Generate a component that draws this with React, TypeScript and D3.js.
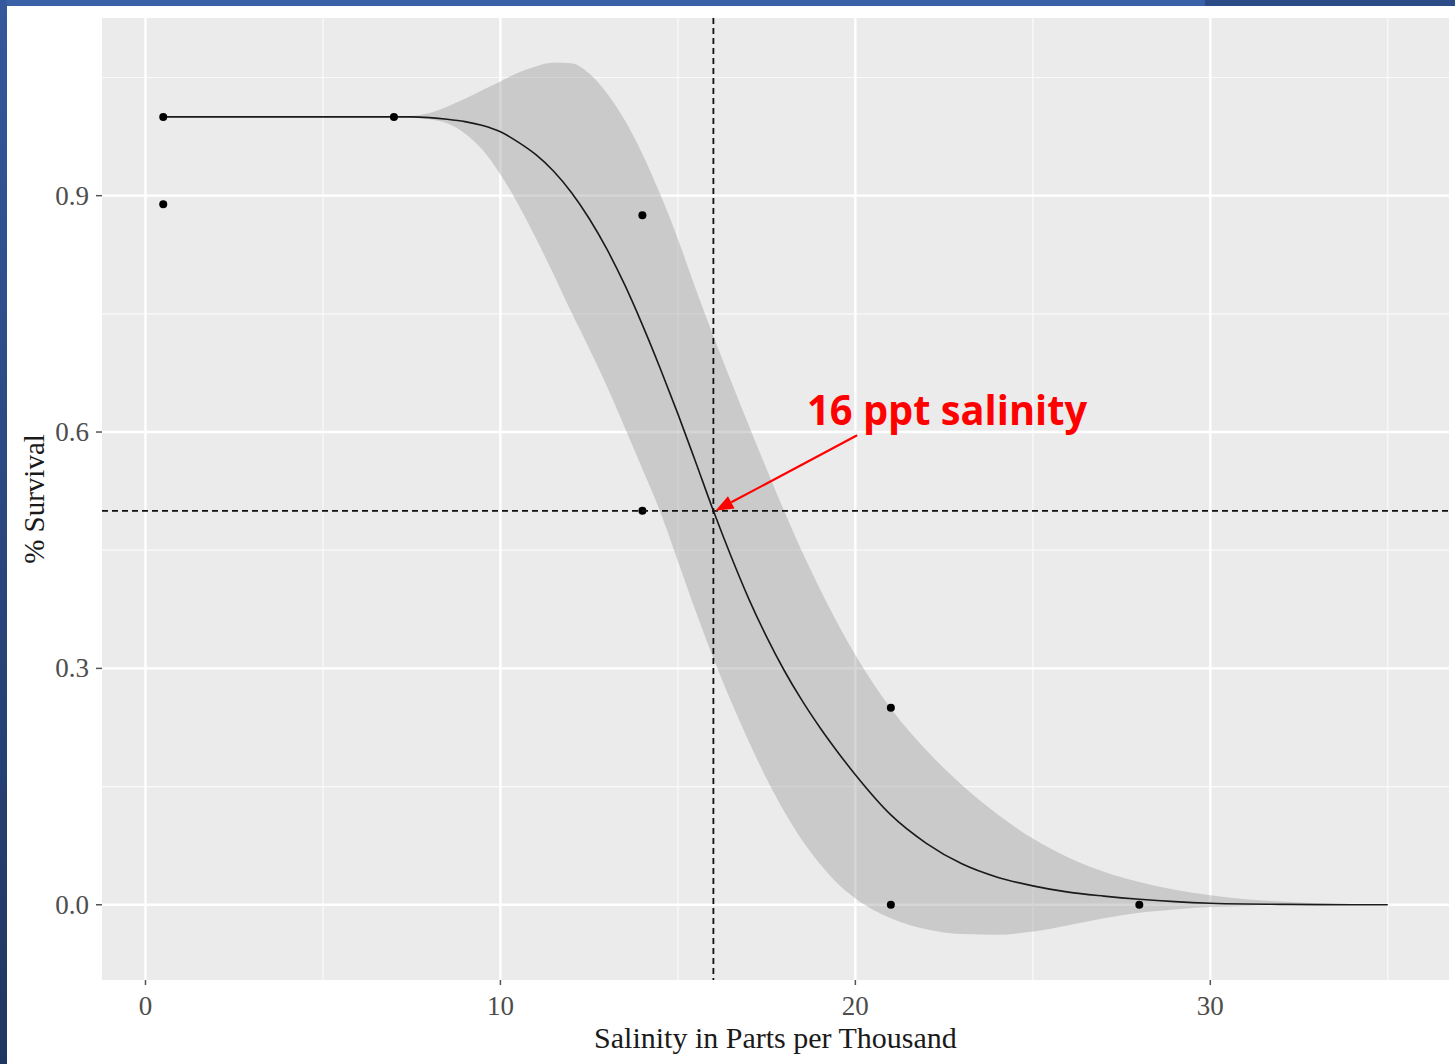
import React from "react";
import * as d3 from "d3";

// ---- Data ----
const pointX = [0.5, 0.5, 7, 14, 14, 21, 21, 28];
const pointY = [1.0, 0.889, 1.0, 0.875, 0.5, 0.25, 0.0, 0.0];

const fitX = [0.5, 7, 7.5, 8, 8.5, 9, 9.5, 10, 10.5, 11, 11.5, 12, 12.5, 13, 13.5, 14, 14.5, 15, 15.5, 16, 16.5, 17, 17.5, 18, 18.5, 19, 19.5, 20, 21, 22, 23, 24, 25, 26, 27, 28, 29, 30, 31, 32, 33, 34, 35];
const fitY = [1.0, 1.0, 1.0, 0.999, 0.997, 0.994, 0.989, 0.981, 0.968, 0.952, 0.931, 0.904, 0.871, 0.832, 0.787, 0.736, 0.681, 0.623, 0.562, 0.5, 0.442, 0.388, 0.34, 0.297, 0.259, 0.225, 0.194, 0.165, 0.114, 0.078, 0.052, 0.035, 0.024, 0.016, 0.011, 0.007, 0.004, 0.002, 0.001, 0.0005, 0.0002, 0.0001, 0.0];
const upperY = [1.0, 1.0, 1.001, 1.005, 1.013, 1.023, 1.034, 1.045, 1.056, 1.064, 1.069, 1.068, 1.055, 1.03, 0.996, 0.953, 0.902, 0.845, 0.782, 0.722, 0.664, 0.608, 0.553, 0.499, 0.448, 0.401, 0.357, 0.317, 0.249, 0.196, 0.152, 0.115, 0.084, 0.06, 0.042, 0.029, 0.019, 0.012, 0.007, 0.004, 0.002, 0.001, 0.0];
const lowerY = [1.0, 1.0, 0.999, 0.997, 0.992, 0.979, 0.958, 0.927, 0.889, 0.846, 0.8, 0.752, 0.706, 0.658, 0.606, 0.553, 0.499, 0.436, 0.373, 0.313, 0.258, 0.207, 0.16, 0.118, 0.082, 0.052, 0.027, 0.008, -0.017, -0.031, -0.037, -0.038, -0.034, -0.026, -0.017, -0.01, -0.006, -0.003, -0.0015, -0.0005, 0, 0, 0];

const xMajor = [0, 10, 20, 30];
const xMinor = [5, 15, 25, 35];
const yMajor = [0, 0.3, 0.6, 0.9];
const yMinor = [0.15, 0.45, 0.75, 1.05];
const yTickLabels = ["0.0", "0.3", "0.6", "0.9"];
const xTickLabels = ["0", "10", "20", "30"];

const refX = 16;
const refY = 0.5;
const annotationText = "16 ppt salinity";
const annotationAt = [18.64, 0.609];
const arrowFrom = [20.05, 0.596];

export default function App() {
  const W = 1455, H = 1064;
  const left = 102, right = 1449, top = 18, bottom = 980;

  const x = d3.scaleLinear().domain([-1.225, 36.725]).range([left, right]);
  const y = d3.scaleLinear().domain([-0.0955, 1.1255]).range([bottom, top]);

  const ribbon = fitX.map((v, i) => ({ x: v, lo: lowerY[i], hi: upperY[i] }));
  const area = d3.area<any>().x(d => x(d.x)).y0(d => y(d.lo)).y1(d => y(d.hi)).curve(d3.curveMonotoneX);
  const line = d3.line<any>().x(d => x(d.x)).y(d => y(d.y)).curve(d3.curveMonotoneX);
  const fit = fitX.map((v, i) => ({ x: v, y: fitY[i] }));

  // arrow geometry
  const tipX = x(refX) + 2, tipY = y(refY);
  const sx = x(arrowFrom[0]), sy = y(arrowFrom[1]);
  const ang = Math.atan2(tipY - sy, tipX - sx);
  const hl = 18, hw = 7;
  const bx = tipX - hl * Math.cos(ang), by = tipY - hl * Math.sin(ang);
  const p1 = [bx + hw * Math.sin(ang), by - hw * Math.cos(ang)];
  const p2 = [bx - hw * Math.sin(ang), by + hw * Math.cos(ang)];

  return (
    <svg width={W} height={H} style={{ position: "absolute", left: 0, top: 0, display: "block" }}>
      <defs>
        <linearGradient id="lb" x1="0" y1="0" x2="0" y2="1">
          <stop offset="0" stopColor="#34589c" />
          <stop offset="1" stopColor="#1f3760" />
        </linearGradient>
      </defs>
      <rect x={0} y={0} width={W} height={H} fill="#ffffff" />
      <rect x={0} y={0} width={1205} height={6} fill="#3a62a8" />
      <rect x={1205} y={0} width={W - 1205} height={6} fill="#2c4c88" />
      <rect x={0} y={0} width={7} height={H} fill="url(#lb)" />

      {/* panel */}
      <rect x={left} y={top} width={right - left} height={bottom - top} fill="#ebebeb" />
      {xMinor.map(v => (
        <line key={"xm" + v} x1={x(v)} x2={x(v)} y1={top} y2={bottom} stroke="#fafafa" strokeWidth={1.2} />
      ))}
      {yMinor.map(v => (
        <line key={"ym" + v} x1={left} x2={right} y1={y(v)} y2={y(v)} stroke="#fafafa" strokeWidth={1.2} />
      ))}
      {xMajor.map(v => (
        <line key={"xM" + v} x1={x(v)} x2={x(v)} y1={top} y2={bottom} stroke="#ffffff" strokeWidth={2.4} />
      ))}
      {yMajor.map(v => (
        <line key={"yM" + v} x1={left} x2={right} y1={y(v)} y2={y(v)} stroke="#ffffff" strokeWidth={2.4} />
      ))}

      <path d={area(ribbon) || ""} fill="#999999" fillOpacity={0.4} />
      <path d={line(fit) || ""} fill="none" stroke="#1a1a1a" strokeWidth={1.6} />

      {pointX.map((v, i) => (
        <circle key={"p" + i} cx={x(v)} cy={y(pointY[i])} r={4} fill="#000" />
      ))}

      <line x1={x(refX)} x2={x(refX)} y1={top} y2={bottom} stroke="#111" strokeWidth={1.8} strokeDasharray="6,4" />
      <line x1={left} x2={right} y1={y(refY)} y2={y(refY)} stroke="#111" strokeWidth={1.8} strokeDasharray="6,4" />

      {/* annotation */}
      <line x1={sx} y1={sy} x2={bx} y2={by} stroke="#ff0000" strokeWidth={2.2} />
      <polygon points={`${tipX},${tipY} ${p1[0]},${p1[1]} ${p2[0]},${p2[1]}`} fill="#ff0000" />
      <text x={x(annotationAt[0])} y={y(annotationAt[1])} fill="#ff0000" fontFamily="'Open Sans', 'Noto Sans', sans-serif" fontWeight="bold" fontSize={42} textLength={280} lengthAdjust="spacingAndGlyphs">{annotationText}</text>

      {/* axes */}
      {yMajor.map((v, i) => (
        <g key={"yt" + v}>
          <line x1={96} x2={left} y1={y(v)} y2={y(v)} stroke="#555" strokeWidth={1.5} />
          <text x={89} y={y(v) + 9} textAnchor="end" fontFamily="'Liberation Serif', serif" fontSize={27} fill="#4d4d4d">{yTickLabels[i]}</text>
        </g>
      ))}
      {xMajor.map((v, i) => (
        <g key={"xt" + v}>
          <line x1={x(v)} x2={x(v)} y1={bottom} y2={bottom + 5} stroke="#555" strokeWidth={1.5} />
          <text x={x(v)} y={1015} textAnchor="middle" fontFamily="'Liberation Serif', serif" fontSize={27} fill="#4d4d4d">{xTickLabels[i]}</text>
        </g>
      ))}
      <text x={(left + right) / 2} y={1048} textAnchor="middle" fontFamily="'Liberation Serif', serif" fontSize={30} fill="#1a1a1a">Salinity in Parts per Thousand</text>
      <text transform={`translate(44, ${(top + bottom) / 2}) rotate(-90)`} textAnchor="middle" fontFamily="'Liberation Serif', serif" fontSize={29} fill="#1a1a1a">% Survival</text>
    </svg>
  );
}
